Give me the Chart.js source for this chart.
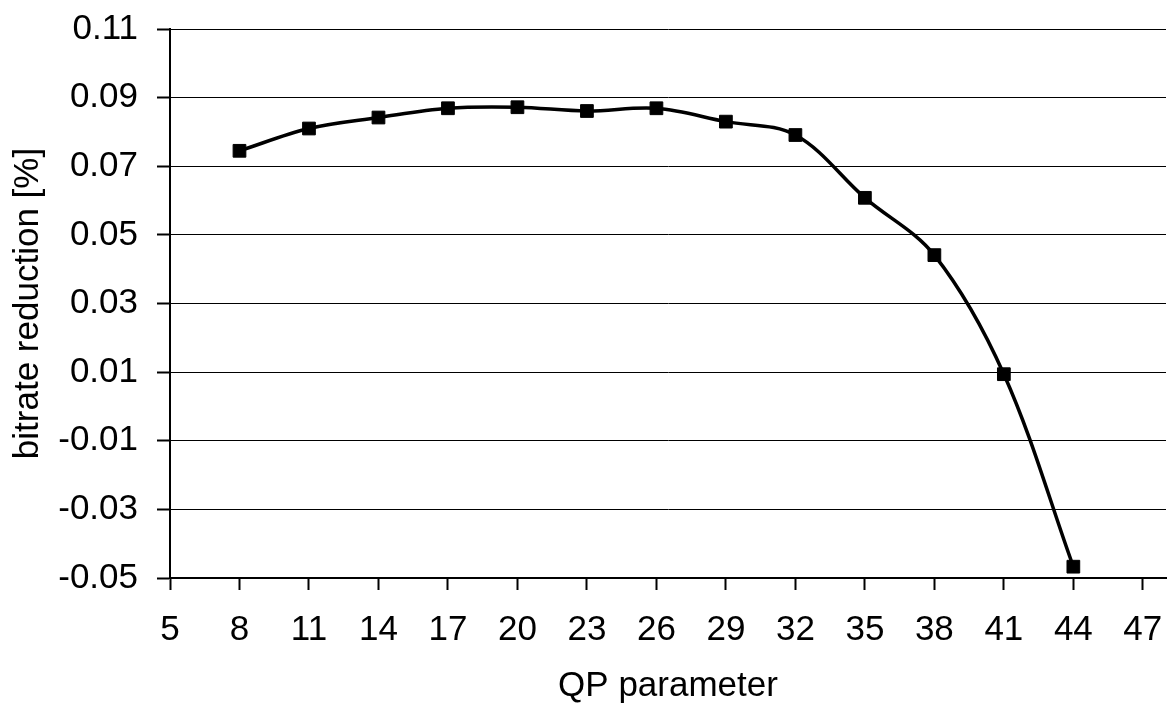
<!DOCTYPE html>
<html>
<head>
<meta charset="utf-8">
<title>Bitrate reduction vs QP</title>
<script src="https://cdn.jsdelivr.net/npm/chart.js@4/dist/chart.umd.min.js"></script>
<style>
  html, body { margin: 0; padding: 0; background: #fff; }
  #wrap { width: 1168px; height: 704px; }
</style>
</head>
<body>
<div id="wrap"><canvas id="chart" width="1168" height="704"></canvas></div>
<script>
// QP values and the measured bitrate reduction at each
const qp = [8, 11, 14, 17, 20, 23, 26, 29, 32, 35, 38, 41, 44];
const bitrateReduction = [0.0745, 0.0810, 0.0842, 0.0869, 0.0872, 0.0861, 0.0869,
                          0.0830, 0.0791, 0.0608, 0.0441, 0.0094, -0.0467];

// axis tick positions
const xTicks = [5, 8, 11, 14, 17, 20, 23, 26, 29, 32, 35, 38, 41, 44, 47];
const yTicks = [-0.05, -0.03, -0.01, 0.01, 0.03, 0.05, 0.07, 0.09, 0.11];

const FONT = { family: '"Liberation Sans", Arial, sans-serif', size: 35 };

new Chart(document.getElementById('chart'), {
  type: 'line',
  data: {
    datasets: [{
      data: qp.map((x, i) => ({ x: x, y: bitrateReduction[i] })),
      borderColor: '#000',
      borderWidth: 3.5,
      tension: 0.35,
      fill: false,
      pointStyle: 'rect',
      pointRadius: 9,
      pointBackgroundColor: '#000',
      pointBorderColor: '#000',
      pointBorderWidth: 1
    }]
  },
  options: {
    responsive: false,
    animation: false,
    devicePixelRatio: 1,
    layout: { autoPadding: false, padding: { top: 29, right: 2, left: 0, bottom: 0 } },
    plugins: { legend: { display: false }, tooltip: { enabled: false } },
    scales: {
      x: {
        type: 'linear',
        min: 5,
        max: 48,
        afterBuildTicks: s => { s.ticks = xTicks.map(v => ({ value: v })); },
        afterFit: s => { s.height = 126; s.paddingLeft = 0; s.paddingRight = 0; },
        border: { display: true, color: '#000', width: 2 },
        grid: {
          drawOnChartArea: false,
          drawTicks: true,
          tickLength: 12,
          tickColor: '#000',
          tickWidth: 2
        },
        ticks: {
          color: '#000',
          font: FONT,
          padding: 19,
          maxRotation: 0,
          autoSkip: false,
          callback: v => String(v)
        },
        title: {
          display: true,
          text: 'QP parameter',
          color: '#000',
          font: Object.assign({ lineHeight: 1.0 }, FONT),
          padding: { top: 0, bottom: 0 }
        }
      },
      y: {
        min: -0.05,
        max: 0.11,
        afterBuildTicks: s => { s.ticks = yTicks.map(v => ({ value: v })); },
        afterFit: s => { s.width = 170; s.paddingTop = 0; s.paddingBottom = 0; },
        border: { display: true, color: '#000', width: 2 },
        grid: {
          color: '#000',
          lineWidth: 1,
          drawTicks: true,
          tickLength: 13,
          tickColor: '#000',
          tickWidth: 2
        },
        ticks: {
          color: '#000',
          font: FONT,
          padding: 19,
          autoSkip: false,
          callback: v => Number(v).toFixed(2)
        },
        title: {
          display: true,
          text: 'bitrate reduction [%]',
          color: '#000',
          font: Object.assign({ lineHeight: 1.0 }, FONT),
          padding: { top: 11, bottom: 0 }
        }
      }
    }
  }
});
</script>
</body>
</html>
